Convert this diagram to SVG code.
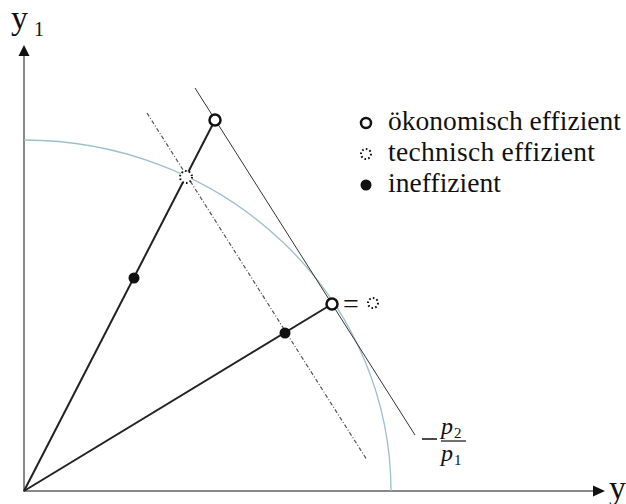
<svg xmlns="http://www.w3.org/2000/svg" width="626" height="504" viewBox="0 0 626 504">
<style>
.ax{stroke:#888;stroke-width:2;fill:none}
.ray{stroke:#222;stroke-width:2;fill:none}
.price{stroke:#333;stroke-width:1;fill:none}
.dd{stroke:#555;stroke-width:1.2;fill:none;stroke-dasharray:4 2 1 2}
.curve{stroke:#9dbfcc;stroke-width:1.3;fill:none}
.hol{fill:#fff;stroke:#111;stroke-width:2.5}
.dot{fill:#fff;stroke:#111;stroke-width:2;stroke-dasharray:1.6 2.2}
.fil{fill:#111}
.t{fill:#111;font-family:"Liberation Serif","DejaVu Serif",serif}
.leg{font-size:27.5px}
</style>
<rect width="626" height="504" fill="#fff"/>
<g id="axes">
<line class="ax" x1="24" y1="492" x2="24" y2="55"/>
<polygon points="24,45 18.5,56 29.5,56" fill="#111"/>
<line class="ax" x1="23" y1="491" x2="594" y2="491"/>
<polygon points="605,491 593,485.5 593,496.5" fill="#111"/>
<text class="t" x="11" y="29" font-size="34">y</text>
<text class="t" x="34" y="36" font-size="20">1</text>
<text class="t" x="609" y="499" font-size="34">y</text>
</g>
<g id="frontier">
<path class="curve" d="M24,140 A367,351 0 0 1 391,491"/>
</g>
<g id="connectors">
<line class="ray" x1="24" y1="491" x2="215" y2="120"/>
<line class="ray" x1="24" y1="491" x2="332" y2="304"/>
<line class="price" x1="195" y1="88" x2="415" y2="435"/>
<line class="dd" x1="147" y1="113" x2="367" y2="460"/>
</g>
<g id="n-econ-1"><circle class="hol" cx="215" cy="120" r="5.5"/></g>
<g id="n-tech-1"><circle class="dot" cx="186" cy="177" r="6"/></g>
<g id="n-ineff-1"><circle class="fil" cx="134" cy="278" r="5.5"/></g>
<g id="n-ineff-2"><circle class="fil" cx="285" cy="333" r="5.5"/></g>
<g id="n-econ-2">
<circle class="hol" cx="332" cy="304" r="5.5"/>
<text class="t" x="343" y="313" font-size="28">=</text>
<circle class="dot" cx="373" cy="303" r="5"/>
</g>
<g id="price-label">
<line x1="422" y1="439" x2="437" y2="439" stroke="#111" stroke-width="1.5"/>
<text class="t" x="441" y="434" font-size="24" font-style="italic">p</text>
<text class="t" x="454" y="438" font-size="15">2</text>
<line x1="441" y1="441" x2="466" y2="441" stroke="#111" stroke-width="1.2"/>
<text class="t" x="441" y="461" font-size="24" font-style="italic">p</text>
<text class="t" x="454" y="465" font-size="15">1</text>
</g>
<g id="legend">
<circle class="hol" cx="366" cy="123" r="5"/>
<text class="t leg" x="388" y="130" textLength="233" lengthAdjust="spacing">ökonomisch effizient</text>
<circle class="dot" cx="366" cy="154" r="5"/>
<text class="t leg" x="388" y="161" textLength="207" lengthAdjust="spacing">technisch effizient</text>
<circle class="fil" cx="366" cy="185" r="5.5"/>
<text class="t leg" x="388" y="192" textLength="113" lengthAdjust="spacing">ineffizient</text>
</g>
</svg>
